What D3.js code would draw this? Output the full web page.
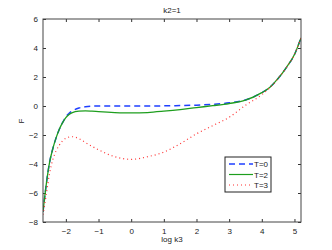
<!DOCTYPE html>
<html>
<head>
<meta charset="utf-8">
<script src="https://cdn.jsdelivr.net/npm/d3@7"></script>
<style>
  body { margin: 0; background: #fff; }
  text { font-family: "Liberation Sans", Arial, sans-serif; fill: #222; }
</style>
</head>
<body>
<div id="chart"></div>
<script>
// data
const logk3 = [-2.7, -2.6, -2.5, -2.4, -2.3, -2.2, -2.1, -2.0, -1.9, -1.8, -1.6, -1.4, -1.2, -1.0,
  -0.5, 0, 0.5, 1.0, 1.5, 2.0, 2.5, 3.0, 3.5, 4.0, 4.25, 4.5, 4.75, 5.0, 5.2];
const fT0 = [-7.3, -5.4, -3.9, -2.95, -2.2, -1.6, -1.15, -0.75, -0.5, -0.34, -0.14, -0.05, -0.01, 0,
  0, 0, 0, 0.01, 0.03, 0.06, 0.12, 0.22, 0.42, 0.92, 1.3, 1.9, 2.65, 3.55, 4.7];
const fT2 = [-7.3, -5.4, -3.9, -2.95, -2.2, -1.6, -1.15, -0.8, -0.58, -0.45, -0.36, -0.34, -0.36, -0.39,
  -0.45, -0.48, -0.45, -0.36, -0.25, -0.11, 0.02, 0.17, 0.4, 0.92, 1.3, 1.9, 2.65, 3.55, 4.7];
const fT3 = [-7.5, -6.1, -4.65, -3.7, -3.1, -2.7, -2.4, -2.22, -2.14, -2.12, -2.25, -2.52, -2.78, -3.02,
  -3.5, -3.68, -3.5, -3.18, -2.6, -1.92, -1.35, -0.78, 0.05, 0.78, 1.27, 1.9, 2.65, 3.55, 4.7];

const seriesNames = ["T=0", "T=2", "T=3"];
const seriesValues = [fT0, fT2, fT3];
const seriesColors = ["#1f3fff", "#1e9e1e", "#ff3030"];
const seriesDash = ["6,4", null, "1,3"];

const xTicks = [-2, -1, 0, 1, 2, 3, 4, 5];
const yTicks = [-8, -6, -4, -2, 0, 2, 4, 6];

const W = 332, H = 250;
const margin = {left: 43, right: 31, top: 19, bottom: 28};

const svg = d3.select("#chart").append("svg")
  .attr("width", W)
  .attr("height", H);

svg.append("rect").attr("width", W).attr("height", H).attr("fill", "#fff");

const x = d3.scaleLinear().domain([-2.7, 5.2]).range([margin.left, W - margin.right]);
const y = d3.scaleLinear().domain([-8, 6]).range([H - margin.bottom, margin.top]);

const fmt = d => d3.format("")(d);

// axes with inward ticks on all four sides
const axisStyle = g => {
  g.select(".domain").remove();
  g.selectAll("line").attr("stroke", "#333");
  g.selectAll("text").attr("font-size", 8).attr("fill", "#222");
};

svg.append("g")
  .attr("transform", `translate(0,${y.range()[0]})`)
  .call(d3.axisBottom(x).tickValues(xTicks).tickFormat(fmt).tickSizeInner(-3).tickSizeOuter(0).tickPadding(6))
  .call(axisStyle);
svg.append("g")
  .attr("transform", `translate(0,${y.range()[1]})`)
  .call(d3.axisTop(x).tickValues(xTicks).tickFormat("").tickSizeInner(-3).tickSizeOuter(0))
  .call(axisStyle);
svg.append("g")
  .attr("transform", `translate(${x.range()[0]},0)`)
  .call(d3.axisLeft(y).tickValues(yTicks).tickFormat(fmt).tickSizeInner(-3).tickSizeOuter(0).tickPadding(5))
  .call(axisStyle);
svg.append("g")
  .attr("transform", `translate(${x.range()[1]},0)`)
  .call(d3.axisRight(y).tickValues(yTicks).tickFormat("").tickSizeInner(-3).tickSizeOuter(0))
  .call(axisStyle);

// curves
svg.append("clipPath").attr("id", "clip")
  .append("rect")
  .attr("x", x.range()[0]).attr("y", y.range()[1])
  .attr("width", x.range()[1] - x.range()[0])
  .attr("height", y.range()[0] - y.range()[1]);

const line = d3.line()
  .x(d => x(d[0]))
  .y(d => y(d[1]))
  .curve(d3.curveMonotoneX);

const plot = svg.append("g").attr("clip-path", "url(#clip)");
// plotted in order, so T=3 ends up on top
seriesValues.forEach((vals, i) => {
  plot.append("path")
    .datum(logk3.map((v, j) => [v, vals[j]]))
    .attr("fill", "none")
    .attr("stroke", seriesColors[i])
    .attr("stroke-width", i === 0 ? 1.5 : (i === 1 ? 1.3 : 1.2))
    .attr("stroke-dasharray", seriesDash[i])
    .attr("d", line);
});

// plot box
svg.append("rect")
  .attr("x", x.range()[0]).attr("y", y.range()[1])
  .attr("width", x.range()[1] - x.range()[0])
  .attr("height", y.range()[0] - y.range()[1])
  .attr("fill", "none")
  .attr("stroke", "#444")
  .attr("stroke-width", 1);

// labels
svg.append("text")
  .attr("x", (x.range()[0] + x.range()[1]) / 2)
  .attr("y", 13)
  .attr("text-anchor", "middle")
  .attr("font-size", 8)
  .text("k2=1");

svg.append("text")
  .attr("x", (x.range()[0] + x.range()[1]) / 2)
  .attr("y", 242)
  .attr("text-anchor", "middle")
  .attr("font-size", 8)
  .text("log k3");

svg.append("text")
  .attr("transform", "translate(24,121) rotate(-90)")
  .attr("text-anchor", "middle")
  .attr("font-size", 8)
  .text("F");

// legend
const legend = svg.append("g").attr("transform", "translate(225,157)");
legend.append("rect")
  .attr("width", 46).attr("height", 35)
  .attr("fill", "#fff")
  .attr("stroke", "#222")
  .attr("stroke-width", 1);
seriesNames.forEach((name, i) => {
  const ly = 7 + i * 10.5;
  legend.append("line")
    .attr("x1", 4).attr("x2", 28)
    .attr("y1", ly).attr("y2", ly)
    .attr("stroke", seriesColors[i])
    .attr("stroke-width", i === 0 ? 1.5 : 1.2)
    .attr("stroke-dasharray", seriesDash[i]);
  legend.append("text")
    .attr("x", 29).attr("y", ly + 3)
    .attr("font-size", 8)
    .text(name);
});
</script>
</body>
</html>
